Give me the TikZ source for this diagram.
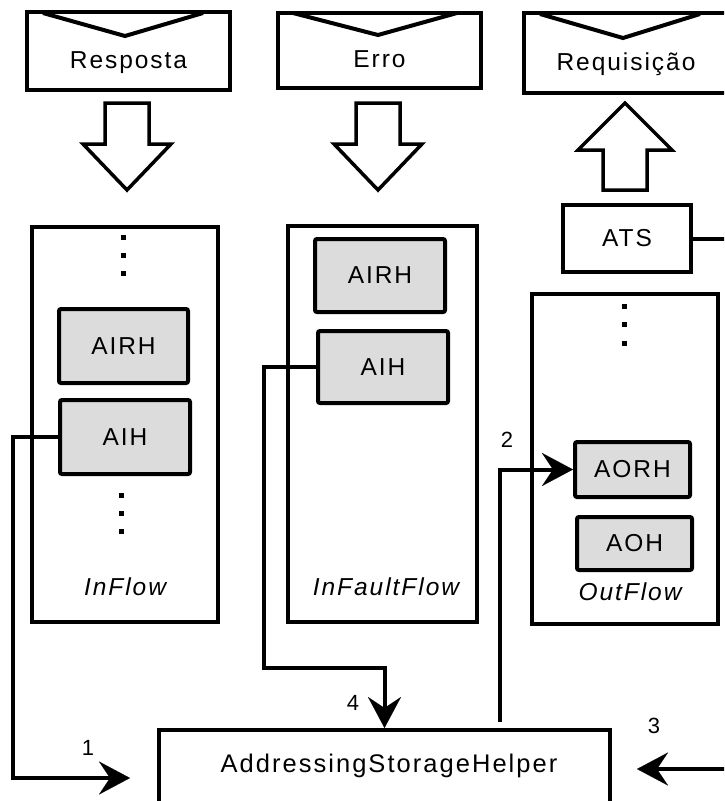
\documentclass[tikz,border=0pt]{standalone}
\usepackage{fontspec}
\setmainfont{Liberation Sans}[LetterSpace=8]
\usetikzlibrary{arrows.meta}

\definecolor{handlergray}{HTML}{DCDCDC}

\tikzset{
  x=1pt, y=-1pt,
  txt/.style={font=\fontsize{24.5}{29}\selectfont},
  frame/.style={draw, line width=4pt, fill=white, inner sep=0pt, txt},
  envelope/.style={frame, text height=34pt, text depth=0pt},
  handler/.style={draw, line width=4pt, fill=handlergray, rounded corners=2pt,
                  inner sep=0pt, txt},
  flowname/.style={font=\fontsize{24.5}{29}\selectfont\itshape, anchor=base, inner sep=0pt},
  num/.style={font=\fontsize{22}{26}\selectfont, anchor=base, inner sep=0pt},
  flap/.style={line width=4pt, line join=miter},
  bigarrow/.style={draw, line width=3.5pt, line join=miter, fill=white},
  conn/.style={line width=4pt, line join=miter,
               -{Stealth[length=31pt, width=33pt, inset=11pt, line width=0.1pt]}},
  vdot/.style={fill=black}
}

\begin{document}
\begin{tikzpicture}
\useasboundingbox (0,0) rectangle (724,801);
\clip (0,0) rectangle (724,801);

% message envelopes
\node[envelope, minimum width=203pt, minimum height=78pt] (resp) at (128.5,51) {Resposta};
\node[envelope, minimum width=203pt, minimum height=75pt] (erro) at (379.5,50.5) {Erro};
\node[envelope, minimum width=216pt, minimum height=80pt, text height=35pt] (req) at (632,53) {\hspace*{-12pt}Requisição};
\draw[flap] (43,13) -- (125,36) -- (203,13);
\draw[flap] (293,13) -- (378,35) -- (457,13);
\draw[flap] (540,14) -- (623,38) -- (700,14);

% hollow flow arrows
\draw[bigarrow] (105,103) -- (149,103) -- (149,144) -- (171,144) -- (127,190)
  -- (83,144) -- (105,144) -- cycle;
\draw[bigarrow] (356,103) -- (400,103) -- (400,144) -- (422,144) -- (378,190)
  -- (334,144) -- (356,144) -- cycle;
\draw[bigarrow] (603,190) -- (647,190) -- (647,150) -- (672,150) -- (625,103)
  -- (578,150) -- (603,150) -- cycle;

% flow containers
\node[frame, minimum width=186pt, minimum height=395pt] (inflow) at (125,424.5) {};
\node[frame, minimum width=189pt, minimum height=396pt] (infault) at (382.5,424) {};
\node[frame, minimum width=186pt, minimum height=330pt] (outflow) at (625,459) {};
\node[frame, minimum width=128pt, minimum height=67pt] (ats) at (627,238.5) {ATS};
\node[frame, minimum width=451pt, minimum height=96pt] (helper) at (384.5,778) {};
\node[font=\fontsize{25.5}{30}\selectfont, anchor=base, inner sep=0pt] (helpertxt)
  at (389,772) {AddressingStorageHelper};

% handlers
\node[handler, minimum width=129pt, minimum height=74pt] (inairh) at (123.5,346) {AIRH};
\node[handler, minimum width=130pt, minimum height=74pt] (inaih) at (125,437) {AIH};
\node[handler, minimum width=130pt, minimum height=73pt] (fairh) at (380,275.5) {AIRH};
\node[handler, minimum width=130pt, minimum height=72pt] (faih) at (383,367) {AIH};
\node[handler, minimum width=115pt, minimum height=55pt] (aorh) at (632.5,469.5) {AORH};
\node[handler, minimum width=115pt, minimum height=53pt] (aoh) at (634.5,543.5) {AOH};

% ellipsis dots
\foreach \px/\py in {123/237, 123/255, 123/273, 121/495, 121/513, 121/531,
                     624/306, 624/324, 624/343}
  \fill[vdot] (\px-2.5,\py-2.5) rectangle (\px+2.5,\py+2.5);

% flow names
\node[flowname] (inflowname) at (125,595) {InFlow};
\node[flowname] (infaultname) at (386,595) {InFaultFlow};
\node[flowname] (outflowname) at (630,600) {OutFlow};

% connectors
\coordinate (c2) at (500,722);
\draw[conn] (inaih.west) -- ++(-45,0) |- ([xshift=-27pt]helper.west);
\draw[conn] (c2) |- (aorh.west);
\draw[conn] (ats.east) -- ++(50,0) |- ([xshift=25pt, yshift=9pt]helper.east);
\draw[conn] (faih.west) -- ++(-52,0) -- ++(0,301) -| (helper.north);

% step numbers
\node[num] (n1) at (88,755) {1};
\node[num] (n2) at (507,447) {2};
\node[num] (n3) at (654,733) {3};
\node[num] (n4) at (353,710) {4};
\end{tikzpicture}
\end{document}
